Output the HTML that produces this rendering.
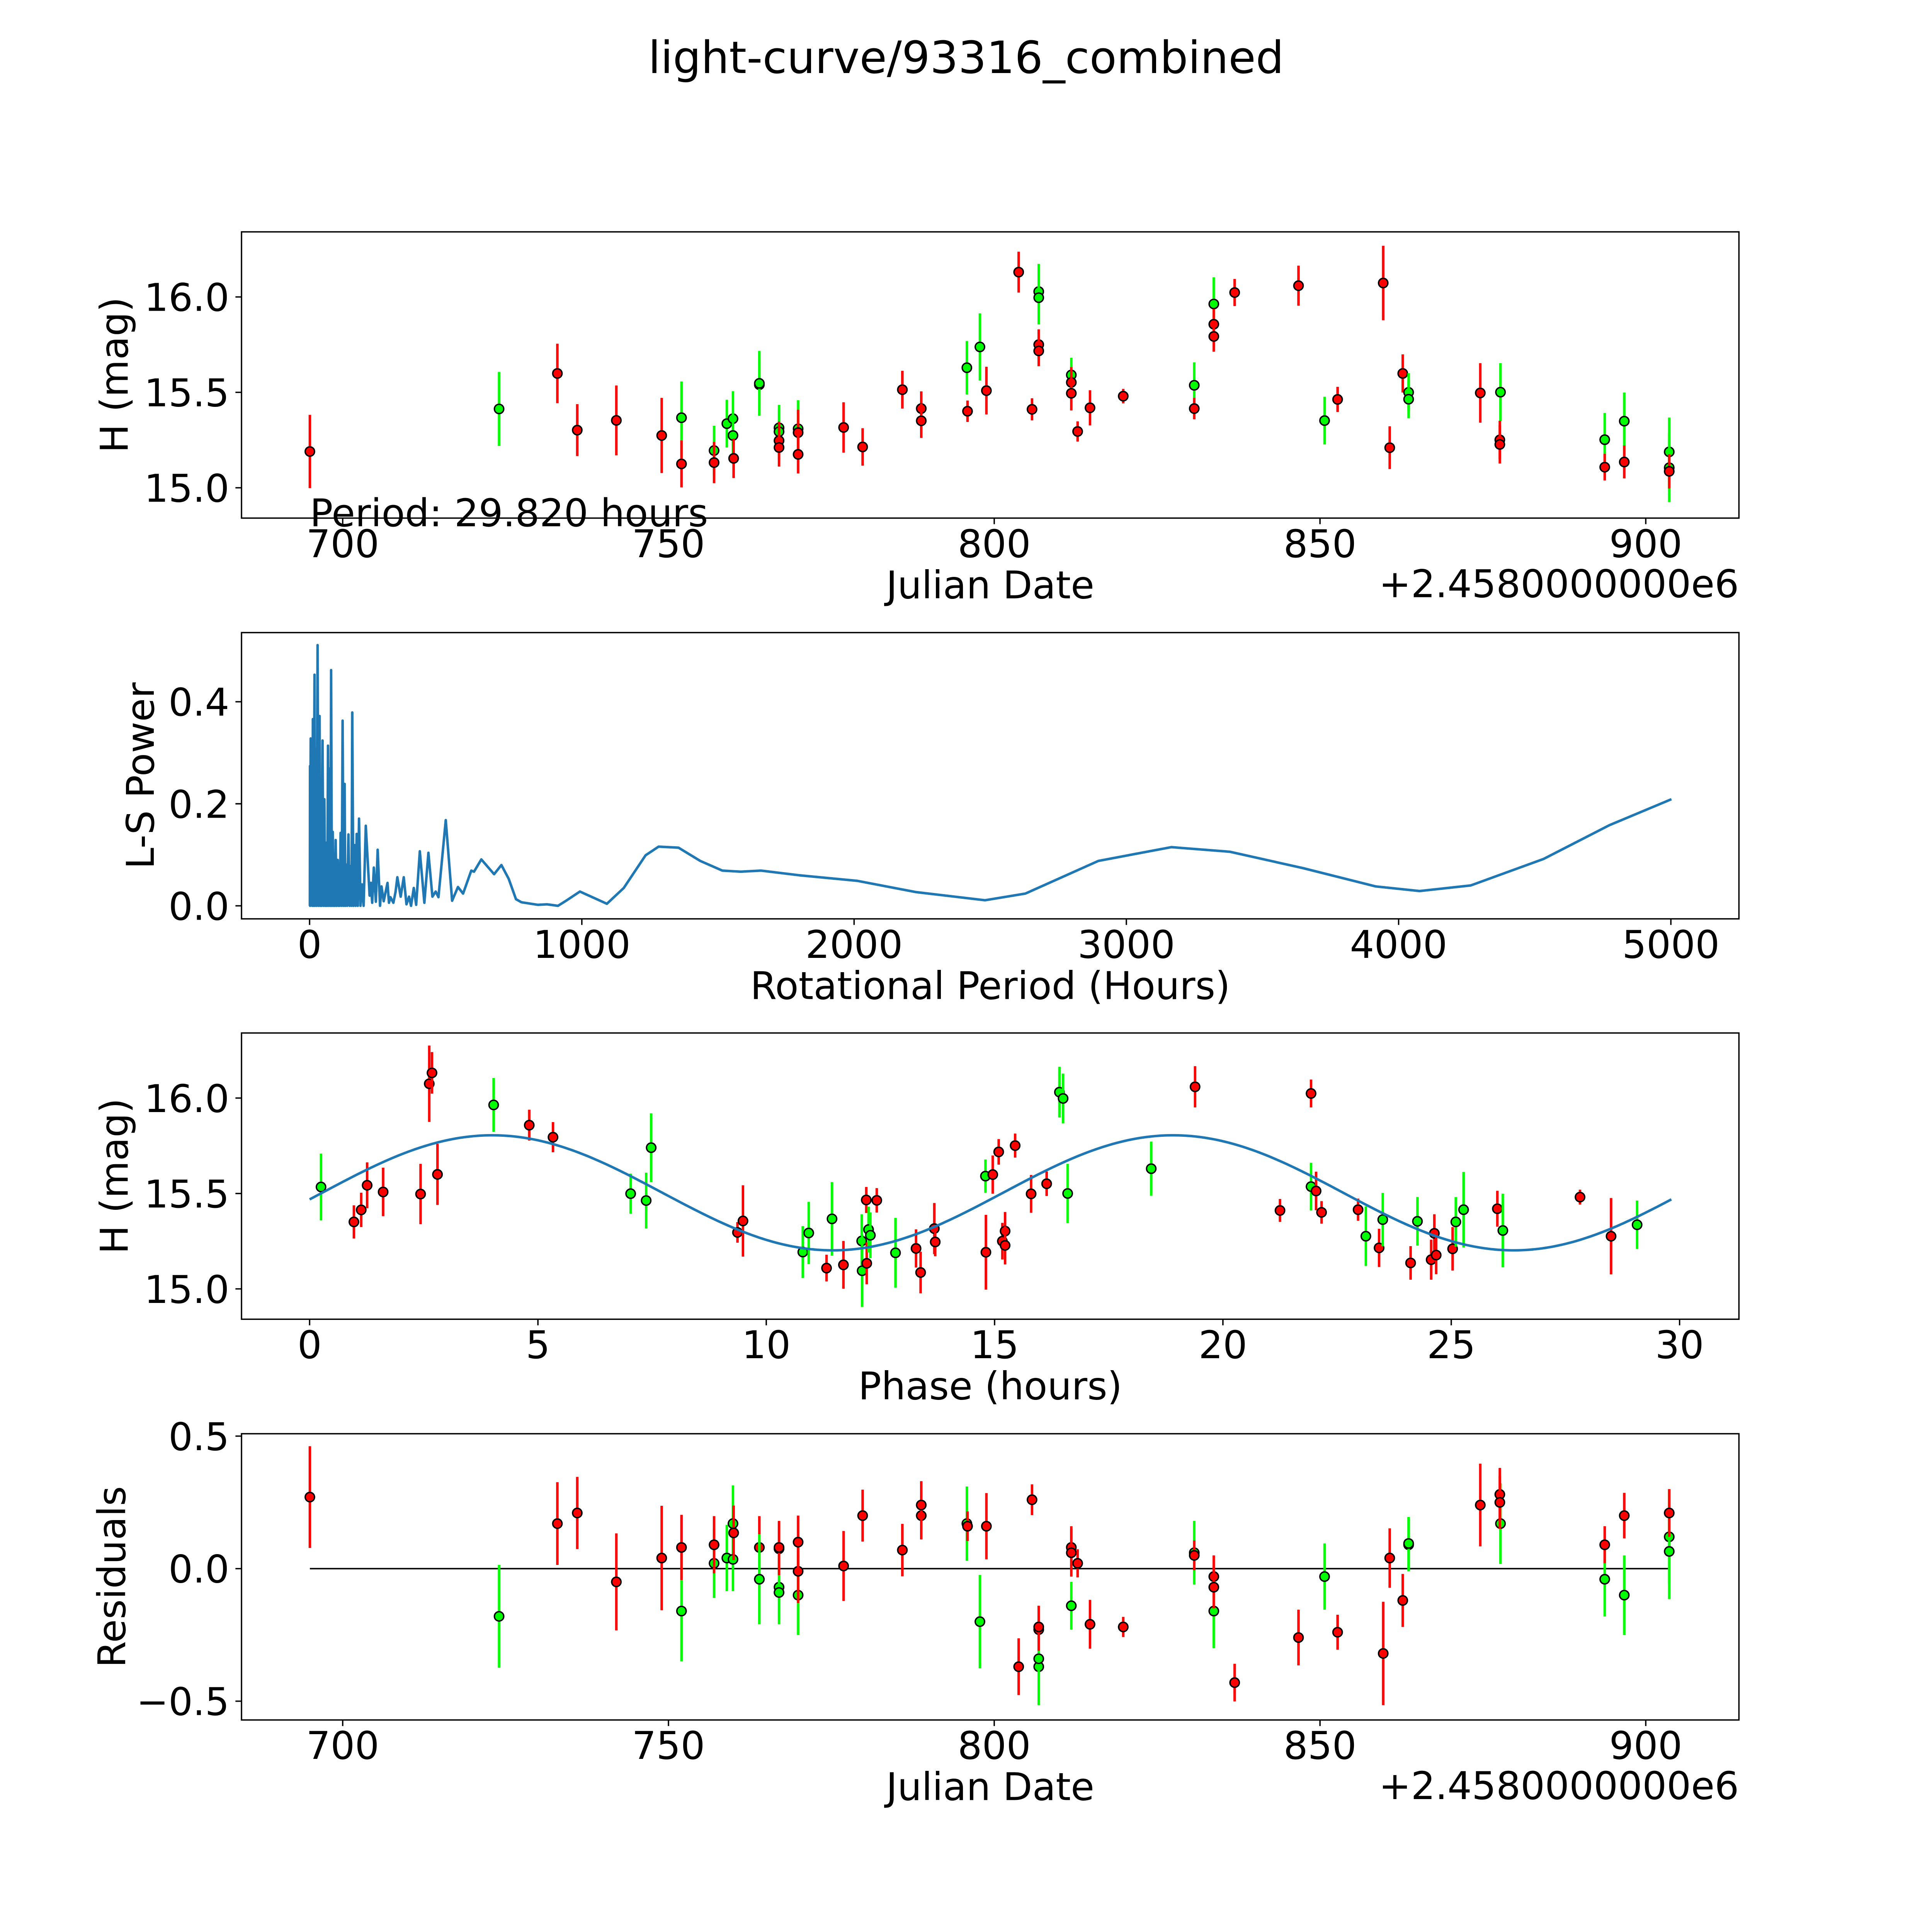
<!DOCTYPE html>
<html>
<head>
<meta charset="utf-8">
<style>
  html,body{margin:0;padding:0;background:#fff;overflow:hidden;width:5400px;height:5400px;}
  svg{display:block;}
  text{font-family:"DejaVu Sans","Liberation Sans",sans-serif;fill:#000;}
</style>
</head>
<body>
<svg id="fig" xmlns="http://www.w3.org/2000/svg" width="5400" height="5400" viewBox="0 0 5400 5400" overflow="hidden">
  <rect x="0" y="0" width="5400" height="5400" fill="#fff"/>
  <g id="root" transform="scale(0.926)">
    <text x="2700" y="204" text-anchor="middle" font-size="124">light-curve/93316_combined</text>
  </g>
</svg>
<script>
// ---------- Panel 1 / 4 data (observations) ----------
const obsDate = [694.96,724.0,732.95,736.0,742.0,748.96,752.0,752.0,757.0,757.0,758.96,759.9,759.9,760.0,763.95,763.95,766.97,766.97,766.97,766.97,769.9,769.9,769.9,776.88,779.8,785.9,788.8,788.8,795.8,795.9,797.8,798.8,803.75,806.83,806.83,806.83,806.83,805.8,811.83,811.83,811.83,812.8,814.7,819.8,830.7,830.7,833.7,833.7,833.7,836.9,846.7,850.7,852.7,859.7,860.7,862.7,863.6,863.6,874.6,877.7,877.6,877.6,893.7,893.7,896.7,896.7,903.6,903.6,903.6];
const obsMag = [15.190,15.413,15.599,15.302,15.353,15.274,15.367,15.125,15.195,15.132,15.336,15.362,15.274,15.154,15.540,15.547,15.314,15.294,15.247,15.211,15.309,15.289,15.175,15.316,15.214,15.514,15.415,15.351,15.629,15.401,15.738,15.509,16.130,16.028,15.996,15.750,15.717,15.411,15.591,15.552,15.495,15.295,15.419,15.480,15.537,15.415,15.963,15.857,15.793,16.023,16.059,15.352,15.463,16.073,15.210,15.599,15.500,15.464,15.497,15.501,15.251,15.227,15.252,15.108,15.349,15.135,15.188,15.105,15.086];
const obsErr = [0.192,0.194,0.156,0.136,0.183,0.197,0.19,0.123,0.13,0.108,0.125,0.144,0.12,0.103,0.118,0.17,0.12,0.12,0.1,0.1,0.15,0.12,0.1,0.132,0.098,0.099,0.09,0.09,0.14,0.056,0.176,0.125,0.107,0.145,0.14,0.08,0.08,0.058,0.09,0.08,0.09,0.053,0.092,0.038,0.12,0.056,0.14,0.08,0.08,0.071,0.105,0.125,0.066,0.195,0.112,0.1,0.1,0.1,0.156,0.152,0.1,0.1,0.14,0.07,0.15,0.086,0.18,0.18,0.09];
const obsBand = ['r','g','r','r','r','r','g','r','g','r','g','g','g','r','r','g','g','g','r','r','g','r','r','r','r','r','r','r','g','r','g','r','r','g','g','r','r','r','g','r','r','r','r','r','g','r','g','r','r','r','r','g','r','r','r','r','g','g','r','g','r','r','g','r','g','r','g','g','r'];
const obsResid = [0.27,-0.18,0.17,0.21,-0.05,0.04,-0.16,0.08,0.02,0.09,0.04,0.17,0.035,0.135,0.08,-0.04,-0.07,-0.09,0.075,0.08,-0.10,-0.01,0.10,0.01,0.20,0.07,0.20,0.24,0.17,0.16,-0.20,0.16,-0.37,-0.37,-0.34,-0.23,-0.22,0.26,-0.14,0.08,0.06,0.02,-0.21,-0.22,0.06,0.05,-0.16,-0.03,-0.07,-0.43,-0.26,-0.03,-0.24,-0.32,0.04,-0.12,0.09,0.095,0.24,0.17,0.28,0.25,-0.04,0.09,-0.10,0.20,0.12,0.065,0.21];

// ---------- Panel 3 data (phased) ----------
const phaseHr = [0.25,0.97,1.13,1.26,1.61,2.43,2.62,2.68,2.80,4.03,4.81,5.33,7.03,7.37,7.48,9.37,9.49,10.80,10.93,11.32,11.44,11.69,12.09,12.10,12.19,12.20,12.24,12.28,12.42,12.83,13.28,13.38,13.68,13.70,14.80,14.81,14.96,15.09,15.45,15.17,15.23,15.23,15.80,16.14,16.42,16.50,16.60,18.43,19.39,21.25,21.93,21.93,22.04,22.16,22.96,23.13,23.42,23.50,24.11,24.26,24.56,24.63,24.67,25.03,25.10,25.27,26.01,26.13,27.82,28.50,29.07];
const phaseMag = [15.534,15.351,15.414,15.543,15.508,15.497,16.075,16.132,15.600,15.964,15.858,15.795,15.499,15.463,15.740,15.296,15.356,15.193,15.293,15.109,15.367,15.126,15.251,15.095,15.466,15.134,15.311,15.281,15.464,15.189,15.212,15.086,15.316,15.246,15.591,15.192,15.599,15.718,15.751,15.250,15.303,15.228,15.498,15.551,16.031,15.998,15.500,15.630,16.059,15.411,15.536,16.024,15.513,15.401,15.415,15.276,15.215,15.363,15.136,15.354,15.153,15.291,15.177,15.210,15.351,15.415,15.420,15.306,15.481,15.276,15.336];
const phaseErr = [0.175,0.087,0.09,0.12,0.127,0.158,0.2,0.109,0.16,0.141,0.081,0.079,0.105,0.146,0.18,0.054,0.187,0.136,0.163,0.07,0.193,0.125,0.14,0.19,0.068,0.11,0.12,0.12,0.064,0.183,0.1,0.109,0.134,0.075,0.087,0.196,0.1,0.067,0.063,0.096,0.1,0.1,0.099,0.064,0.133,0.13,0.155,0.142,0.108,0.06,0.125,0.073,0.101,0.059,0.058,0.156,0.1,0.14,0.088,0.127,0.105,0.1,0.1,0.114,0.13,0.198,0.094,0.193,0.039,0.2,0.127];
const phaseBand = ['g','r','r','r','r','r','r','r','r','g','r','r','g','g','g','r','r','g','g','r','g','r','g','g','r','r','g','g','r','g','r','r','r','r','g','r','r','r','r','r','r','r','r','r','g','g','g','g','r','r','g','r','r','r','r','g','r','g','r','g','r','r','r','r','g','g','r','g','r','r','g'];
const modelMean = 15.5035;
const modelAmp = 0.3015;
const modelPeriod = 14.91;
const modelPeak = 4.0;
const rotPeriod = 29.82;

// ---------- Panel 2 data (Lomb-Scargle) ----------
const lsPeriod = [1,1.5,2,4,8.7,10,12.0,15,18.1,20,22.7,26,29.4,33,36.8,39,40.8,44,47.5,51,54.3,57,59.0,61,63.0,65,67.7,71,74.4,77,79.1,82,85.1,88,90.5,93,95.8,99,103.2,106,108.6,111,113.9,118,121.3,125,128.7,131,133.4,138,142.7,147,150.8,154,156.8,161,165.5,169,172.9,177,181.6,187,192.4,198.4,206.4,220.5,225.2,229.9,236.0,243.3,250.0,258.7,264.1,272.1,286.2,291.6,297.0,307.7,315.7,322.4,334.5,345.9,355.9,365.3,372.7,382.7,391.5,404.9,421.6,436.4,451.1,463.2,473.3,500.1,523.5,545.0,563.8,593.9,604.0,630.8,677.7,704.5,731.3,758.2,778.3,838.6,872.1,912.4,939.2,992.8,1092,1154,1234,1282,1355,1435,1516,1583,1658,1797,2012,2226,2481,2629,2897,3165,3380,3648,3916,4077,4265,4533,4774,5002];
const lsPower = [0,0.274,0,0.328,0.307,0,0.366,0,0.453,0,0.307,0,0.511,0,0.372,0,0.192,0,0.324,0,0.209,0,0.103,0,0.124,0,0.314,0,0.269,0,0.462,0,0.145,0,0.101,0,0.129,0,0.090,0,0.060,0,0.143,0,0.363,0,0.239,0,0.081,0,0.140,0,0.078,0,0.379,0,0.119,0,0.141,0,0.171,0,0.042,0,0.157,0.020,0.045,0.006,0.075,0.008,0.110,0,0.038,0.009,0.045,0.006,0.017,0.006,0.027,0.056,0.018,0.056,0.003,0.018,0,0.035,0.002,0.107,0.006,0.104,0.018,0.028,0.017,0.168,0.010,0.037,0.024,0.069,0.067,0.091,0.062,0.080,0.053,0.013,0.007,0.002,0.003,0,0.009,0.028,0.004,0.035,0.099,0.116,0.114,0.088,0.069,0.067,0.069,0.060,0.049,0.027,0.011,0.024,0.088,0.115,0.106,0.074,0.038,0.029,0.040,0.092,0.158,0.209];

// ---------- Tick labels ----------
const dateTicks = [700,750,800,850,900];
const magTicks = [15.0,15.5,16.0];
const lsXTicks = [0,1000,2000,3000,4000,5000];
const lsYTicks = [0.0,0.2,0.4];
const phaseTicks = [0,5,10,15,20,25,30];
const residTicks = [-0.5,0.0,0.5];

const NS = 'http://www.w3.org/2000/svg';
const svg = document.getElementById('root');
const RED = '#ff0000', GREEN = '#00ff00', BLUE = '#1f77b4';

function mk(tag, attrs, parent) {
  const e = document.createElementNS(NS, tag);
  for (const k in attrs) e.setAttribute(k, attrs[k]);
  (parent || svg).appendChild(e);
  return e;
}

function makeAxis(left, right, top, bottom, xmin, xmax, ymin, ymax) {
  return {
    left, right, top, bottom,
    x: v => left + (v - xmin) / (xmax - xmin) * (right - left),
    y: v => bottom - (v - ymin) / (ymax - ymin) * (bottom - top)
  };
}

const ax1 = makeAxis(675, 4860, 648, 1448, 684.47, 914.3, 14.841, 16.341);
const ax2 = makeAxis(675, 4860, 1768, 2568, -250, 5250, -0.0255, 0.5355);
const ax3 = makeAxis(675, 4860, 2887, 3687, -1.491, 31.30, 14.841, 16.341);
const ax4 = makeAxis(675, 4860, 4007, 4807, 684.47, 914.3, -0.571, 0.509);

function fmt(v, dec) {
  const s = v.toFixed(dec);
  return s.startsWith('-') ? '\u2212' + s.slice(1) : s;
}

function drawFrame(ax, id, xticks, xdec, yticks, ydec, xlabel, ylabel, ylabelX, offsetText) {
  const g = mk('g', {});
  
  
  const cp = mk('clipPath', {id: id + '-clip'}, g);
  mk('rect', {x: ax.left, y: ax.top, width: ax.right - ax.left, height: ax.bottom - ax.top}, cp);
  xticks.forEach(t => {
    const x = ax.x(t);
    const tk = mk('line', {x1: x, x2: x, y1: ax.bottom, y2: ax.bottom + 17, stroke: '#000', 'stroke-width': 3.8}, g);
    
    
    const tl = mk('text', {x: x, y: ax.bottom + 109, 'text-anchor': 'middle', 'font-size': 107}, g);
    tl.textContent = fmt(t, xdec);
    
    
  });
  yticks.forEach(t => {
    const y = ax.y(t);
    const tk = mk('line', {x1: ax.left - 17, x2: ax.left, y1: y, y2: y, stroke: '#000', 'stroke-width': 3.8}, g);
    
    
    const tl = mk('text', {x: ax.left - 34, y: y + 39, 'text-anchor': 'end', 'font-size': 107}, g);
    tl.textContent = fmt(t, ydec);
    
    
  });
  const xl = mk('text', {x: (ax.left + ax.right) / 2, y: ax.bottom + 224, 'text-anchor': 'middle', 'font-size': 107}, g);
  xl.textContent = xlabel;
  
  
  const cy = (ax.top + ax.bottom) / 2;
  const yl = mk('text', {x: ylabelX, y: cy, 'text-anchor': 'middle', 'font-size': 107, transform: 'rotate(-90 ' + ylabelX + ' ' + cy + ')'}, g);
  yl.textContent = ylabel;
  
  
  if (offsetText) {
    const ot = mk('text', {x: ax.right, y: ax.bottom + 221, 'text-anchor': 'end', 'font-size': 107}, g);
    ot.textContent = offsetText;
    
    
  }
  return g;
}

function drawSpines(ax, id) {
  const r = mk('rect', {x: ax.left, y: ax.top, width: ax.right - ax.left, height: ax.bottom - ax.top, fill: 'none', stroke: '#000', 'stroke-width': 3.8});
  
  
}

function drawErrPoints(ax, id, xs, ys, errs, bands) {
  const g = mk('g', {'clip-path': 'url(#' + id + '-clip)'});
  
  
  for (let i = 0; i < xs.length; i++) {
    const col = bands[i] === 'g' ? GREEN : RED;
    const x = ax.x(xs[i]);
    const bar = mk('line', {x1: x, x2: x, y1: ax.y(ys[i] - errs[i]), y2: ax.y(ys[i] + errs[i]), stroke: col, 'stroke-width': 7}, g);
    
    
    const dot = mk('circle', {cx: x, cy: ax.y(ys[i]), r: 13, fill: col, stroke: '#000', 'stroke-width': 4}, g);
    
    
  }
}

// Panel 1
drawFrame(ax1, 'lightcurve', dateTicks, 0, magTicks, 1, 'Julian Date', 'H (mag)', 357, '+2.4580000000e6');
drawErrPoints(ax1, 'lightcurve', obsDate, obsMag, obsErr, obsBand);
const periodText = mk('text', {x: ax1.x(694.96), y: 1471, 'font-size': 107});
periodText.textContent = 'Period: ' + rotPeriod.toFixed(3) + ' hours';


drawSpines(ax1, 'lightcurve');

// Panel 2
drawFrame(ax2, 'periodogram', lsXTicks, 0, lsYTicks, 1, 'Rotational Period (Hours)', 'L-S Power', 430, null);
(function () {
  let d = '';
  for (let i = 0; i < lsPeriod.length; i++) {
    d += (i ? 'L' : 'M') + ax2.x(lsPeriod[i]).toFixed(1) + ' ' + ax2.y(lsPower[i]).toFixed(1);
  }
  const p = mk('path', {d: d, fill: 'none', stroke: BLUE, 'stroke-width': 7, 'stroke-linejoin': 'round', 'clip-path': 'url(#periodogram-clip)'});
  
  
})();
drawSpines(ax2, 'periodogram');

// Panel 3
drawFrame(ax3, 'phased', phaseTicks, 0, magTicks, 1, 'Phase (hours)', 'H (mag)', 357, null);
drawErrPoints(ax3, 'phased', phaseHr, phaseMag, phaseErr, phaseBand);
(function () {
  let d = '';
  const n = 400;
  for (let i = 0; i <= n; i++) {
    const p = rotPeriod * i / n;
    const v = modelMean + modelAmp * Math.cos(2 * Math.PI * (p - modelPeak) / modelPeriod);
    d += (i ? 'L' : 'M') + ax3.x(p).toFixed(1) + ' ' + ax3.y(v).toFixed(1);
  }
  const c = mk('path', {d: d, fill: 'none', stroke: BLUE, 'stroke-width': 7, 'clip-path': 'url(#phased-clip)'});
  
  
})();
drawSpines(ax3, 'phased');

// Panel 4
drawFrame(ax4, 'residuals', dateTicks, 0, residTicks, 1, 'Julian Date', 'Residuals', 350, '+2.4580000000e6');
(function () {
  const x0 = Math.min.apply(null, obsDate), x1 = Math.max.apply(null, obsDate);
  const zl = mk('line', {x1: ax4.x(x0), x2: ax4.x(x1), y1: ax4.y(0), y2: ax4.y(0), stroke: '#000', 'stroke-width': 4});
  
  
})();
drawErrPoints(ax4, 'residuals', obsDate, obsResid, obsErr, obsBand);
drawSpines(ax4, 'residuals');
</script>
</body>
</html>
